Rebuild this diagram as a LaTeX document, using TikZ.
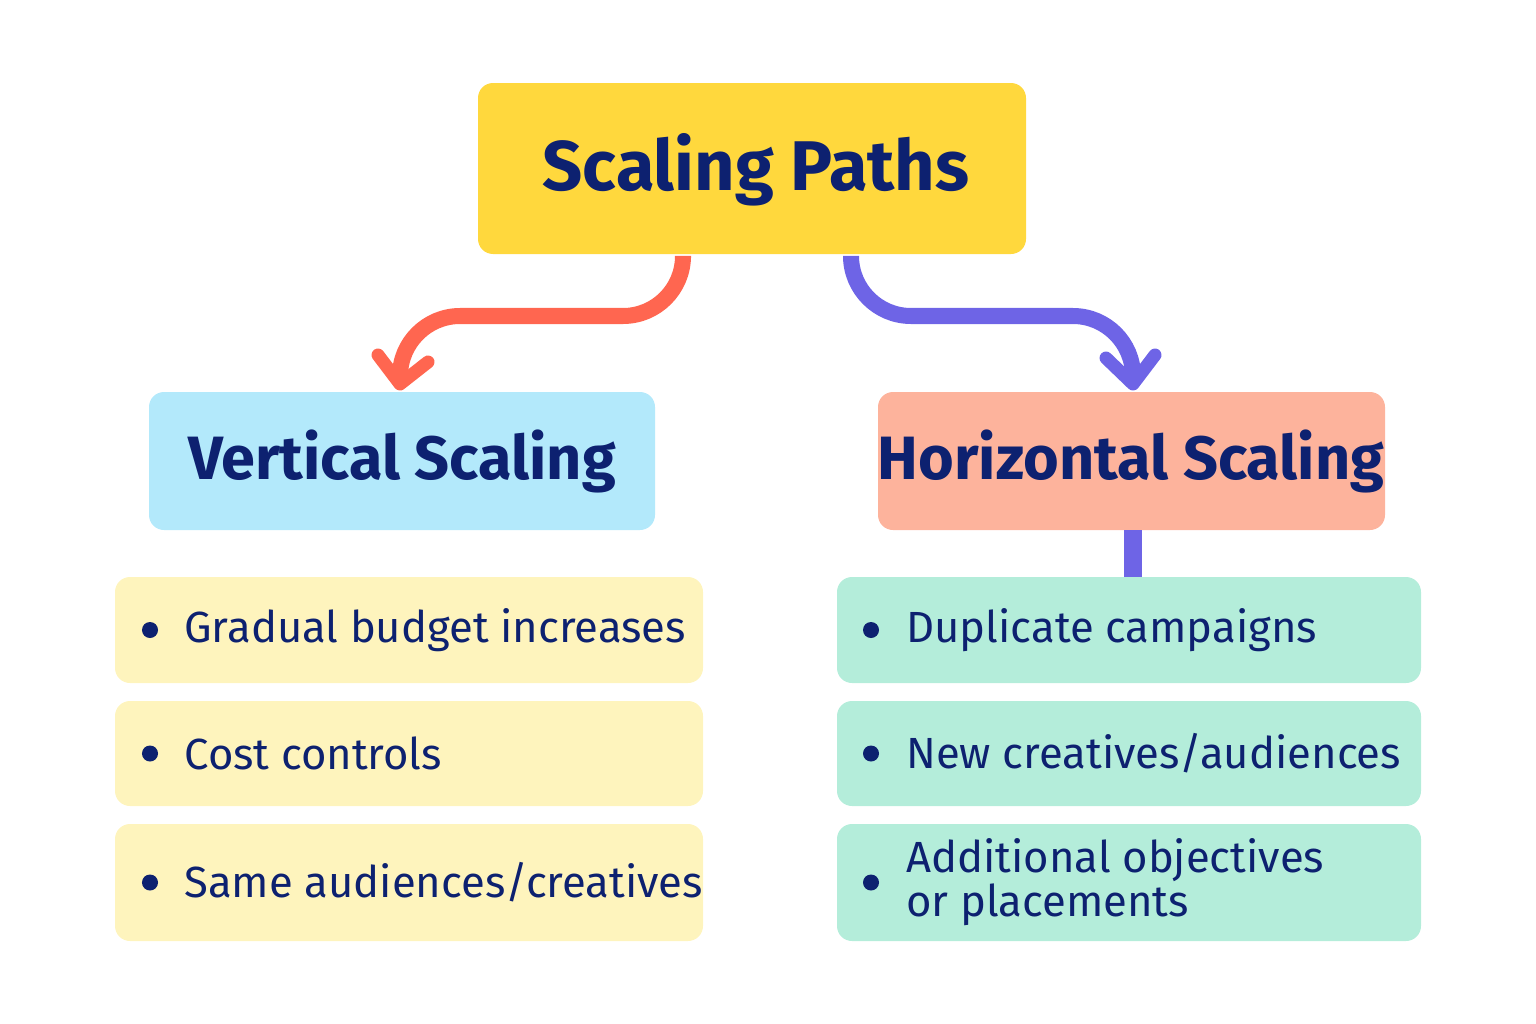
\documentclass[tikz,border=0pt]{standalone}
\usepackage{fontspec}
\setmainfont{Fira Sans}
\usetikzlibrary{arrows.meta}
\definecolor{navy}{HTML}{0D2170}
\definecolor{ttl}{HTML}{FFD83D}
\definecolor{vbox}{HTML}{B3E9FB}
\definecolor{hbox}{HTML}{FDB39C}
\definecolor{litem}{HTML}{FEF4BD}
\definecolor{ritem}{HTML}{B4EDDA}
\definecolor{redc}{HTML}{FF6650}
\definecolor{purc}{HTML}{6E64E6}
\begin{document}
\begin{tikzpicture}[x=0.01cm,y=-0.01cm,
  box/.style={rounded corners=0.15cm,inner sep=0},
  itemtxt/.style={anchor=west,text=navy,font=\fontsize{12.4}{12.5}\selectfont,align=left},
  arr/.style={line width=0.16cm,line cap=round,rounded corners=0.6cm}]
\useasboundingbox (0,0) rectangle (1536,1024);
\fill[box,ttl] (478,83) rectangle (1026,254);
\node[text=navy,font=\fontsize{20}{22}\selectfont\bfseries] (title) at (756,170) {Scaling Paths};
\fill[box,vbox] (149,392) rectangle (655,530);
\node[text=navy,font=\fontsize{17.4}{19}\selectfont\bfseries] (vert) at (402,461) {Vertical Scaling};
\fill[box,hbox] (878,392) rectangle (1385,530);
\node[text=navy,font=\fontsize{17.4}{19}\selectfont\bfseries] (hor) at (1131,461) {Horizontal Scaling};
\foreach \a/\b/\t [count=\i] in {577/683/{Gradual budget increases},701/806/{Cost controls},824/941/{Same audiences/creatives}}{
  \fill[box,litem] (115,\a) rectangle (703,\b);
  \fill[navy] (150,{(\a+\b)/2}) circle (0.08cm);
  \node[itemtxt] (l\i) at (172,{(\a+\b)/2}) {\t};
}
\foreach \a/\b/\t [count=\i] in {577/683/{Duplicate campaigns},701/806/{New creatives/audiences},824/941/{Additional objectives\\or placements}}{
  \fill[box,ritem] (837,\a) rectangle (1421,\b);
  \fill[navy] (871,{(\a+\b)/2}) circle (0.08cm);
  \node[itemtxt] (r\i) at (894,{(\a+\b)/2}) {\t};
}
\coordinate (rs) at (683,258);
\coordinate (ps) at (851,258);
\draw[arr,redc] (rs) -- (683,316) -- (400,316) -- (400,372);
\draw[redc,line width=0.13cm,line cap=round,line join=round] (378,355) -- (400,384) -- (428,362);
\draw[arr,purc] (ps) -- (851,316) -- (1133,316) -- (1133,372);
\draw[purc,line width=0.13cm,line cap=round,line join=round] (1106,358) -- (1133,384) -- (1155,355);
\draw[purc,line width=0.18cm] (1133,530) -- (1133,577);
\end{tikzpicture}
\end{document}
